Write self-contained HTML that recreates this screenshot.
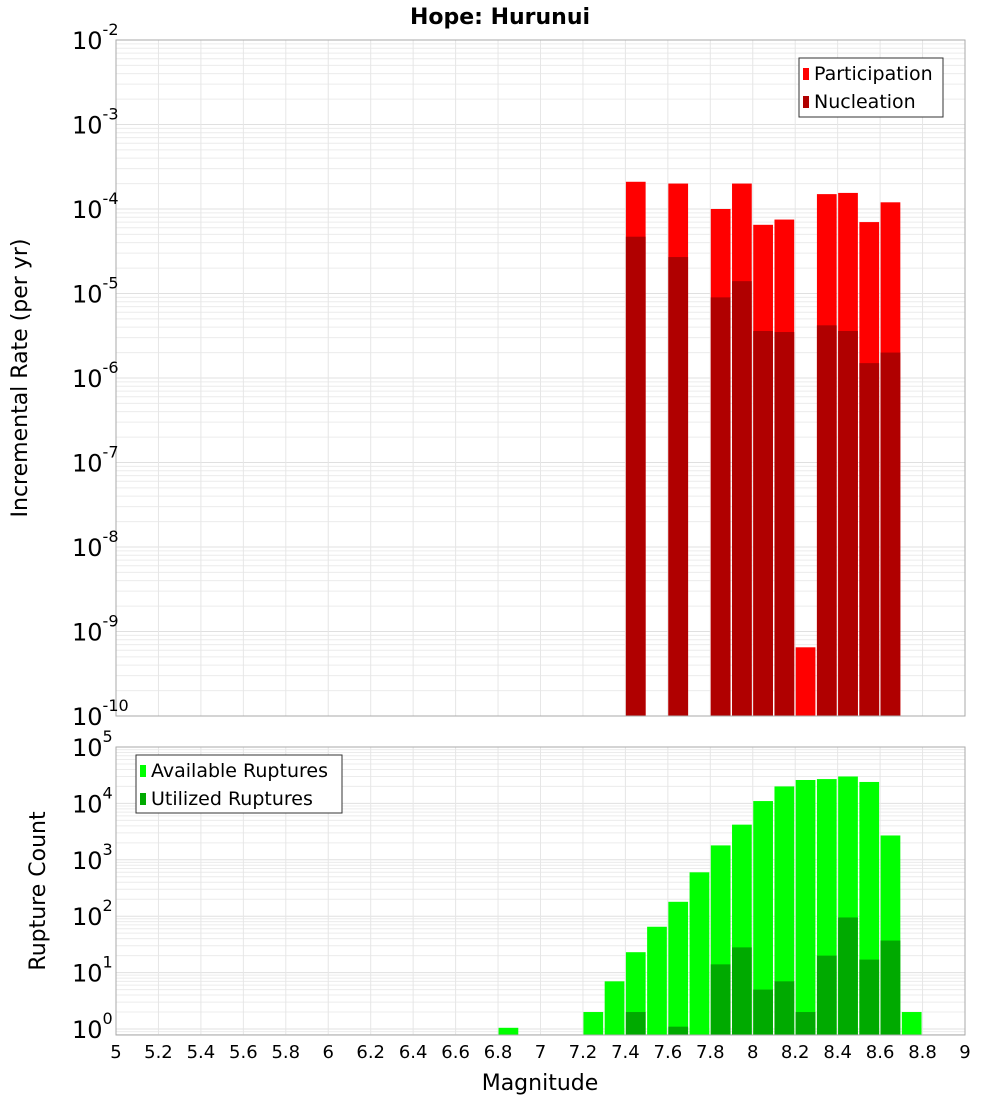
<!DOCTYPE html>
<html><head><meta charset="utf-8"><style>
body{margin:0;background:#fff}
svg{display:block;font-family:"DejaVu Sans","Liberation Sans",sans-serif}
</style></head><body>
<svg id="c" width="1000" height="1100" xmlns="http://www.w3.org/2000/svg"></svg>
<script>
const binStarts=[6.8,7.2,7.3,7.4,7.5,7.6,7.7,7.8,7.9,8.0,8.1,8.2,8.3,8.4,8.5,8.6,8.7];
const participation=[null,null,null,2.1e-4,null,2.0e-4,null,1.0e-4,2.0e-4,6.5e-5,7.5e-5,6.5e-10,1.5e-4,1.55e-4,7e-5,1.2e-4,null];
const nucleation=[null,null,null,4.7e-5,null,2.7e-5,null,9e-6,1.4e-5,3.6e-6,3.5e-6,null,4.2e-6,3.6e-6,1.5e-6,2e-6,null];
const available=[1.05,2,7,23,65,180,600,1800,4200,11000,20000,26000,27000,30000,24000,2700,2];
const utilized=[null,null,null,2,null,1.1,null,14,28,5,7,2,20,95,17,37,null];
const xTicks=[5,5.2,5.4,5.6,5.8,6,6.2,6.4,6.6,6.8,7,7.2,7.4,7.6,7.8,8,8.2,8.4,8.6,8.8,9];
const topExps=[-2,-3,-4,-5,-6,-7,-8,-9,-10];
const botExps=[5,4,3,2,1,0];

const NS="http://www.w3.org/2000/svg",svg=document.getElementById('c');
function mk(t,a,p){const e=document.createElementNS(NS,t);for(const k in a)e.setAttribute(k,a[k]);(p||svg).appendChild(e);return e;}
const X0=116,X1=965;
const x=m=>X0+(m-5)/4*(X1-X0);
const T0=40,T1=716,yT=v=>T0+(-2-Math.log10(v))/8*(T1-T0);
const B0=747,B1=1035,BZ=1029,yB=v=>BZ-(Math.log10(v))/5*(BZ-B0);

function grid(y0,y1,yf,eLo,eHi){
  const g=mk('g',{});
  
  for(let e=eLo;e<eHi;e++)for(let k=1;k<10;k++){const yy=yf(k*Math.pow(10,e));if(yy>=y0&&yy<=y1)mk('line',{x1:X0,x2:X1,y1:yy,y2:yy,stroke:k==1?'#e0e0e0':'#ececec','stroke-width':1},g);}
  xTicks.forEach(t=>mk('line',{x1:x(t),x2:x(t),y1:y0,y2:y1,stroke:'#e6e6e6'},g));
}
grid(T0,T1,yT,-10,-2);
grid(B0,B1,yB,-1,5);

function bars(vals,yf,base,color,name){
  binStarts.forEach((b,i)=>{const v=vals[i];if(v==null)return;
    const y=yf(v);const r=mk('rect',{x:x(b)+0.5,y:y,width:x(b+0.1)-x(b)-1.5,height:base-y,fill:color});
    });
}
bars(participation,yT,T1,'#ff0000','participation-bar');
bars(nucleation,yT,T1,'#b00000','nucleation-bar');
bars(available,yB,B1,'#00ff00','available-bar');
bars(utilized,yB,B1,'#00aa00','utilized-bar');

mk('rect',{x:X0,y:T0,width:X1-X0,height:T1-T0,fill:'none',stroke:'#aaa'});
mk('rect',{x:X0,y:B0,width:X1-X0,height:B1-B0,fill:'none',stroke:'#aaa'});

function ylab(exps,yf){exps.forEach(e=>{const yy=yf(Math.pow(10,e));
  const t=mk('text',{x:106,y:yy+9,'text-anchor':'end','font-size':24,fill:'#000'});
  
  const a=mk('tspan',{},t);a.textContent='10';
  const b=mk('tspan',{dy:-14,'font-size':16},t);b.textContent=String(e);
  // position exponent right of "10"
  t.setAttribute('x',72);t.setAttribute('text-anchor','start');
});}
ylab(topExps,yT);ylab(botExps,yB);

xTicks.forEach(t=>{const e=mk('text',{x:x(t),y:1058,'text-anchor':'middle','font-size':18});e.textContent=String(t);
  });

function txt(s,a,name){const e=mk('text',a);e.textContent=s;return e;}
txt('Hope: Hurunui',{x:500,y:24,'text-anchor':'middle','font-size':22,'font-weight':'bold'},'chart-title');
txt('Magnitude',{x:540,y:1090,'text-anchor':'middle','font-size':22},'x-axis-title');
txt('Incremental Rate (per yr)',{x:0,y:0,'text-anchor':'middle','font-size':22,transform:'translate(27,378) rotate(-90)'},'top-y-axis-title');
txt('Rupture Count',{x:0,y:0,'text-anchor':'middle','font-size':22,transform:'translate(45,891) rotate(-90)'},'bottom-y-axis-title');

function legend(bx,by,w,h,items,name){const g=mk('g',{});
  mk('rect',{x:bx,y:by,width:w,height:h,fill:'#fff',stroke:'#333'},g);
  items.forEach((it,i)=>{const yy=by+15+i*28;mk('rect',{x:bx+4,y:yy-5,width:6,height:12,fill:it[1]},g);
    const t=mk('text',{x:bx+15,y:yy+7,'font-size':19},g);t.textContent=it[0];
    });}
legend(799,58,144,59,[['Participation','#ff0000'],['Nucleation','#b00000']],'top-legend');
legend(136,755,206,58,[['Available Ruptures','#00ff00'],['Utilized Ruptures','#00aa00']],'bottom-legend');
</script>
</body></html>
